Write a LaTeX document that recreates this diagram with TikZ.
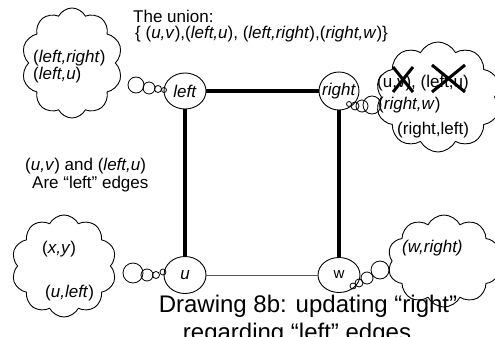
\documentclass[tikz,border=0pt]{standalone}
\usepackage{fontspec}
\setmainfont{Liberation Sans}
\usetikzlibrary{shapes.symbols,shapes.geometric}
\tikzset{
 vert/.style={ellipse, draw, line width=0.9pt, inner sep=0pt, font=\fontsize{17}{20}\selectfont},
 thickedge/.style={line width=4pt},
 thinedge/.style={line width=0.9pt, black!65},
 thought/.style={cloud, draw, line width=0.9pt, cloud puffs=10, cloud puff arc=125, cloud ignores aspect, inner sep=0pt},
 bub/.style={circle, draw, line width=0.8pt, inner sep=0pt},
 lbl/.style={inner sep=0pt, anchor=base west, font=\fontsize{17}{20}\selectfont},
 ttl/.style={inner sep=0pt, anchor=base, font=\fontsize{24}{28}\selectfont},
 xmark/.style={line width=3pt},
}
\begin{document}
\begin{tikzpicture}[x=1pt,y=-1pt]
\useasboundingbox (0,0) rectangle (495,337);
\clip (0,0) rectangle (495,337);
% clouds
\node[thought, minimum width=101pt, minimum height=110pt] (c1) at (72,63) {};
\node[thought, minimum width=125pt, minimum height=110pt] (c2) at (438,97) {};
\node[thought, minimum width=105pt, minimum height=102pt] (c3) at (64,266) {};
\node[thought, minimum width=113pt, minimum height=92pt] (c4) at (444,261) {};
% bubbles
\node[bub, minimum size=16pt] (b11) at (136,85) {};
\node[bub, minimum size=12pt] (b12) at (149,88) {};
\node[bub, minimum size=7pt] (b13) at (158,89) {};
\node[bub, minimum size=5pt] (b14) at (164,90) {};
\node[bub, minimum size=5pt] (b21) at (349,104) {};
\node[bub, minimum size=8pt] (b22) at (355,106) {};
\node[bub, minimum size=12pt] (b23) at (362,106) {};
\node[bub, minimum size=18pt] (b24) at (372,105) {};
\node[bub, minimum size=20pt] (b31) at (133,273) {};
\node[bub, minimum size=12pt] (b32) at (147,275) {};
\node[bub, minimum size=7pt] (b33) at (156,275) {};
\node[bub, minimum size=6pt] (b34) at (163,272) {};
\node[bub, minimum size=6pt] (b41) at (353,286) {};
\node[bub, minimum size=8pt] (b42) at (359,283) {};
\node[bub, minimum size=12pt] (b43) at (367,278) {};
\node[bub, minimum size=18pt] (b44) at (380,270) {};
% vertices
\node[vert, minimum width=42pt, minimum height=36pt] (left) at (185,91) {\makebox[0pt]{\textit{left}}};
\node[vert, minimum width=40pt, minimum height=38pt] (right) at (339,91) {\makebox[0pt]{\textit{right}}};
\node[vert, minimum width=42pt, minimum height=37pt] (u) at (185,275) {\makebox[0pt]{\textit{u}}};
\node[vert, minimum width=42pt, minimum height=35pt, font=\fontsize{15}{18}\selectfont] (w) at (339,275) {\makebox[0pt]{w}};
% edges
\draw[thickedge] (left) -- (right);
\draw[thickedge] (left) -- (u);
\draw[thickedge] (right) -- (w);
\draw[thinedge] (u) -- (w);
% texts
\node[lbl] (t1) at (133,23) {The union:};
\node[lbl] (t2) at (135,39) {\{ (\textit{u,v}),(\textit{left,u}), (\textit{left,right}),(\textit{right,w})\}};
\node[lbl] (t3) at (33,63) {(\textit{left,right})};
\node[lbl] (t4) at (33,79) {(\textit{left,u})};
\node[lbl] (t5) at (377,88) {(u,v), (left,u)};
\node[lbl] (t6) at (378,109) {(\textit{right,w})};
\node[lbl] (t7) at (397,134) {(right,left)};
\node[lbl] (t8) at (25,170) {(\textit{u,v}) and (\textit{left,u})};
\node[lbl] (t9) at (32,188) {Are “left” edges};
\node[lbl] (t10) at (42,253) {(\textit{x,y})};
\node[lbl] (t11) at (45,297) {(\textit{u,left})};
\node[lbl] (t12) at (402,252) {\textit{(w,right)}};
\node[ttl] (tt1) at (308,312) {Drawing 8b: updating “right”};
\node[ttl] (tt2) at (297,340) {regarding “left” edges};
% crosses
\draw[xmark] (393,67) -- (413,92) (413,67) -- (393,92);
\draw[xmark] (432,65) -- (465,92) (465,65) -- (432,92);
\end{tikzpicture}
\end{document}
